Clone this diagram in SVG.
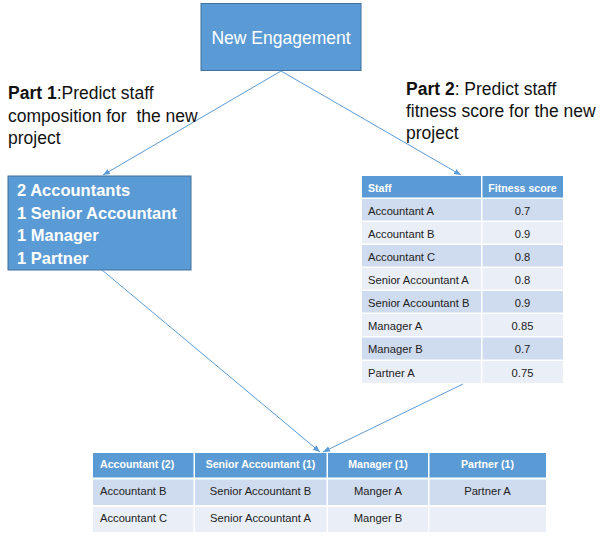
<svg xmlns="http://www.w3.org/2000/svg" width="600" height="538" viewBox="0 0 600 538">
<defs>
<style>
.box{fill:#5b9bd5;stroke:#41719c;stroke-width:1}
.lbl{font-family:"Liberation Sans",Arial,sans-serif;font-size:17.5px;fill:#111}
.boxt{font-family:"Liberation Sans",Arial,sans-serif;font-size:17.5px;fill:#fff}
.bold{font-family:"Liberation Sans",Arial,sans-serif;font-size:16.5px;font-weight:bold;fill:#fff}
.hd{fill:#5b9bd5}
.dk{fill:#cfdbee}
.lt{fill:#e9eef7}
.th{font-family:"Liberation Sans",Arial,sans-serif;font-size:10.6px;font-weight:bold;fill:#fff}
.td{font-family:"Liberation Sans",Arial,sans-serif;font-size:11.2px;fill:#222}
.c{text-anchor:middle}
.conn{stroke:#5b9bd5;stroke-width:1;fill:none;marker-end:url(#arr)}
</style>
<marker id="arr" viewBox="0 0 10 10" refX="10" refY="5" markerWidth="7" markerHeight="7" orient="auto" markerUnits="userSpaceOnUse">
<path d="M0,1 L10,5 L0,9 z" fill="#5b9bd5"/>
</marker>
</defs>
<rect width="600" height="538" fill="#fff"/>

<g id="connectors">
<line class="conn" x1="281" y1="71" x2="103" y2="175"/>
<line class="conn" x1="281" y1="71" x2="461" y2="175"/>
<line class="conn" x1="102" y1="270" x2="320" y2="452"/>
<line class="conn" x1="463" y1="384" x2="323" y2="452"/>
</g>

<g id="new-engagement">
<rect class="box" x="201" y="3.5" width="160" height="67"/>
<text class="boxt c" x="281" y="43.5">New Engagement</text>
</g>

<g id="part1-label">
<text class="lbl" x="8" y="99"><tspan font-weight="bold">Part 1</tspan>:Predict staff</text>
<text class="lbl" x="8" y="121.5" xml:space="preserve">composition for  the new</text>
<text class="lbl" x="8" y="143.5">project</text>
</g>

<g id="part2-label">
<text class="lbl" x="406" y="95"><tspan font-weight="bold">Part 2</tspan>: Predict staff</text>
<text class="lbl" x="406" y="117">fitness score for the new</text>
<text class="lbl" x="406" y="139">project</text>
</g>

<g id="composition">
<rect class="box" x="8" y="176" width="183" height="94"/>
<text class="bold" x="17" y="196">2 Accountants</text>
<text class="bold" x="17" y="218.5">1 Senior Accountant</text>
<text class="bold" x="17" y="241">1 Manager</text>
<text class="bold" x="17" y="263.5">1 Partner</text>
</g>

<g id="fitness-table">
<rect class="hd" x="362" y="176" width="119" height="21.5"/>
<rect class="hd" x="482.5" y="176" width="80.5" height="21.5"/>
<rect class="dk" x="362" y="199" width="119" height="21.5"/><rect class="dk" x="482.5" y="199" width="80.5" height="21.5"/>
<rect class="lt" x="362" y="222" width="119" height="21.5"/><rect class="lt" x="482.5" y="222" width="80.5" height="21.5"/>
<rect class="dk" x="362" y="245" width="119" height="21.5"/><rect class="dk" x="482.5" y="245" width="80.5" height="21.5"/>
<rect class="lt" x="362" y="268" width="119" height="21.5"/><rect class="lt" x="482.5" y="268" width="80.5" height="21.5"/>
<rect class="dk" x="362" y="291" width="119" height="21.5"/><rect class="dk" x="482.5" y="291" width="80.5" height="21.5"/>
<rect class="lt" x="362" y="314" width="119" height="22"/><rect class="lt" x="482.5" y="314" width="80.5" height="22"/>
<rect class="dk" x="362" y="337.5" width="119" height="22"/><rect class="dk" x="482.5" y="337.5" width="80.5" height="22"/>
<rect class="lt" x="362" y="361" width="119" height="22"/><rect class="lt" x="482.5" y="361" width="80.5" height="22"/>
<text class="th" x="368" y="192">Staff</text>
<text class="th c" x="522.5" y="192">Fitness score</text>
<text class="td" x="368" y="214.5">Accountant A</text><text class="td c" x="522.5" y="214.5">0.7</text>
<text class="td" x="368" y="237.5">Accountant B</text><text class="td c" x="522.5" y="237.5">0.9</text>
<text class="td" x="368" y="260.5">Accountant C</text><text class="td c" x="522.5" y="260.5">0.8</text>
<text class="td" x="368" y="283.5">Senior Accountant A</text><text class="td c" x="522.5" y="283.5">0.8</text>
<text class="td" x="368" y="306.5">Senior Accountant B</text><text class="td c" x="522.5" y="306.5">0.9</text>
<text class="td" x="368" y="329.5">Manager A</text><text class="td c" x="522.5" y="329.5">0.85</text>
<text class="td" x="368" y="353">Manager B</text><text class="td c" x="522.5" y="353">0.7</text>
<text class="td" x="368" y="376.5">Partner A</text><text class="td c" x="522.5" y="376.5">0.75</text>
</g>

<g id="team-table">
<rect class="hd" x="93" y="453" width="100.5" height="24.5"/>
<rect class="hd" x="195" y="453" width="131.5" height="24.5"/>
<rect class="hd" x="328" y="453" width="100" height="24.5"/>
<rect class="hd" x="429.5" y="453" width="116.5" height="24.5"/>
<rect class="dk" x="93" y="479.5" width="100.5" height="25.5"/>
<rect class="dk" x="195" y="479.5" width="131.5" height="25.5"/>
<rect class="dk" x="328" y="479.5" width="100" height="25.5"/>
<rect class="dk" x="429.5" y="479.5" width="116.5" height="25.5"/>
<rect class="lt" x="93" y="507" width="100.5" height="25"/>
<rect class="lt" x="195" y="507" width="131.5" height="25"/>
<rect class="lt" x="328" y="507" width="100" height="25"/>
<rect class="lt" x="429.5" y="507" width="116.5" height="25"/>
<text class="th" x="100" y="468">Accountant (2)</text>
<text class="th c" x="260.5" y="468">Senior Accountant (1)</text>
<text class="th c" x="378" y="468">Manager (1)</text>
<text class="th c" x="487.5" y="468">Partner (1)</text>
<text class="td" x="100" y="495">Accountant B</text>
<text class="td c" x="260.5" y="495">Senior Accountant B</text>
<text class="td c" x="378" y="495">Manger A</text>
<text class="td c" x="487.5" y="495">Partner A</text>
<text class="td" x="100" y="522">Accountant C</text>
<text class="td c" x="260.5" y="522">Senior Accountant A</text>
<text class="td c" x="378" y="522">Manger B</text>
</g>
</svg>
